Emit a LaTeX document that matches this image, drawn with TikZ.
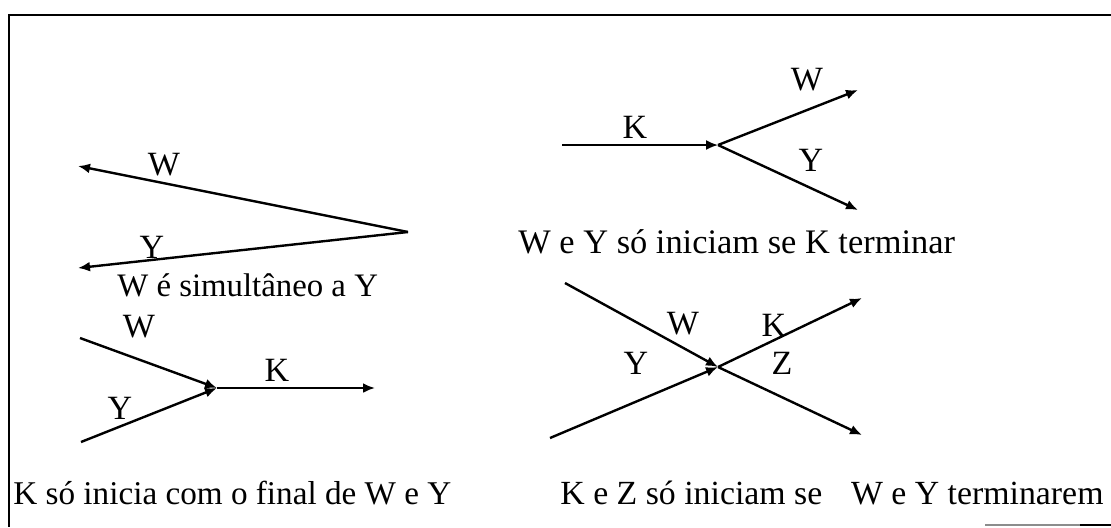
\documentclass[tikz,border=0pt]{standalone}
\usepackage{fontspec}
\setmainfont{Liberation Serif}
\usetikzlibrary{arrows.meta}
\begin{document}
\begin{tikzpicture}[x=0.5pt,y=-0.5pt,
  arr/.style={line width=1.2pt,-{Latex[length=6pt,width=5pt]}},
  lbl/.style={inner sep=0pt,font=\fontsize{17pt}{20pt}\selectfont},
  captxt/.style={inner sep=0pt,anchor=base west,font=\fontsize{16.8pt}{20pt}\selectfont},
  framestyle/.style={line width=1.2pt}]
\useasboundingbox (0,0) rectangle (1111,527);
% frame
\coordinate (ftl) at (9,15);
\coordinate (ftr) at (1111,15);
\coordinate (fbl) at (9,527);
\coordinate (fb1) at (985,525);
\coordinate (fb2) at (1080,525);
\coordinate (fb3) at (1111,525);
\draw[framestyle] (ftr) -- (ftl) -- (fbl);
\draw[line width=0.6pt,black!45] (fb1) -- (fb2);
\draw[line width=1pt] (fb2) -- (fb3);

% Diagram 1: W simultaneous with Y
\coordinate (a1) at (408,232);
\coordinate (w1) at (78,166);
\coordinate (y1) at (78,268);
\draw[arr] (a1) -- (w1);
\draw[arr] (a1) -- (y1);
\node[lbl] (lw1) at (164,165) {W};
\node[lbl] (ly1) at (152,247) {Y};
\node[captxt,font=\fontsize{16.4pt}{20pt}\selectfont] (t1) at (117,296) {W é simultâneo a Y};

% Diagram 2: W and Y start when K ends
\coordinate (k2) at (562,145);
\coordinate (j2) at (718,145);
\coordinate (w2) at (858,90);
\coordinate (y2) at (858,210);
\draw[arr,line width=0.9pt] (k2) -- (j2);
\draw[arr] (j2) -- (w2);
\draw[arr] (j2) -- (y2);
\node[lbl] (lk2) at (635,127) {K};
\node[lbl] (lw2) at (807,80) {W};
\node[lbl] (ly2) at (811,160) {Y};
\node[captxt,font=\fontsize{17.2pt}{20pt}\selectfont] (t2) at (518,253) {W e Y só iniciam se K terminar};

% Diagram 3: K starts with the end of W and Y
\coordinate (w3) at (80,338);
\coordinate (y3) at (81,442);
\coordinate (j3) at (217,388);
\coordinate (k3) at (375,388);
\draw[arr] (w3) -- (j3);
\draw[arr] (y3) -- (j3);
\draw[arr] (j3) -- (k3);
\node[lbl] (lw3) at (139,327) {W};
\node[lbl] (ly3) at (120,408) {Y};
\node[lbl] (lk3) at (277,370) {K};
\node[captxt,font=\fontsize{16.6pt}{20pt}\selectfont] (t3) at (13,504) {K só inicia com o final de W e Y};

% Diagram 4: K and Z start when W and Y end
\coordinate (w4) at (565,283);
\coordinate (y4) at (550,438);
\coordinate (j4) at (718,367);
\coordinate (k4) at (862,298);
\coordinate (z4) at (862,435);
\draw[arr] (w4) -- (j4);
\draw[arr] (y4) -- (j4);
\draw[arr] (j4) -- (k4);
\draw[arr] (j4) -- (z4);
\node[lbl] (lw4) at (683,324) {W};
\node[lbl] (lk4) at (774,325) {K};
\node[lbl] (ly4) at (636,363) {Y};
\node[lbl] (lz4) at (782,363) {Z};
\node[captxt,font=\fontsize{16.9pt}{20pt}\selectfont] (t4) at (560,504) {K e Z só iniciam se \hspace{0.6em}W e Y terminarem};
\end{tikzpicture}
\end{document}
